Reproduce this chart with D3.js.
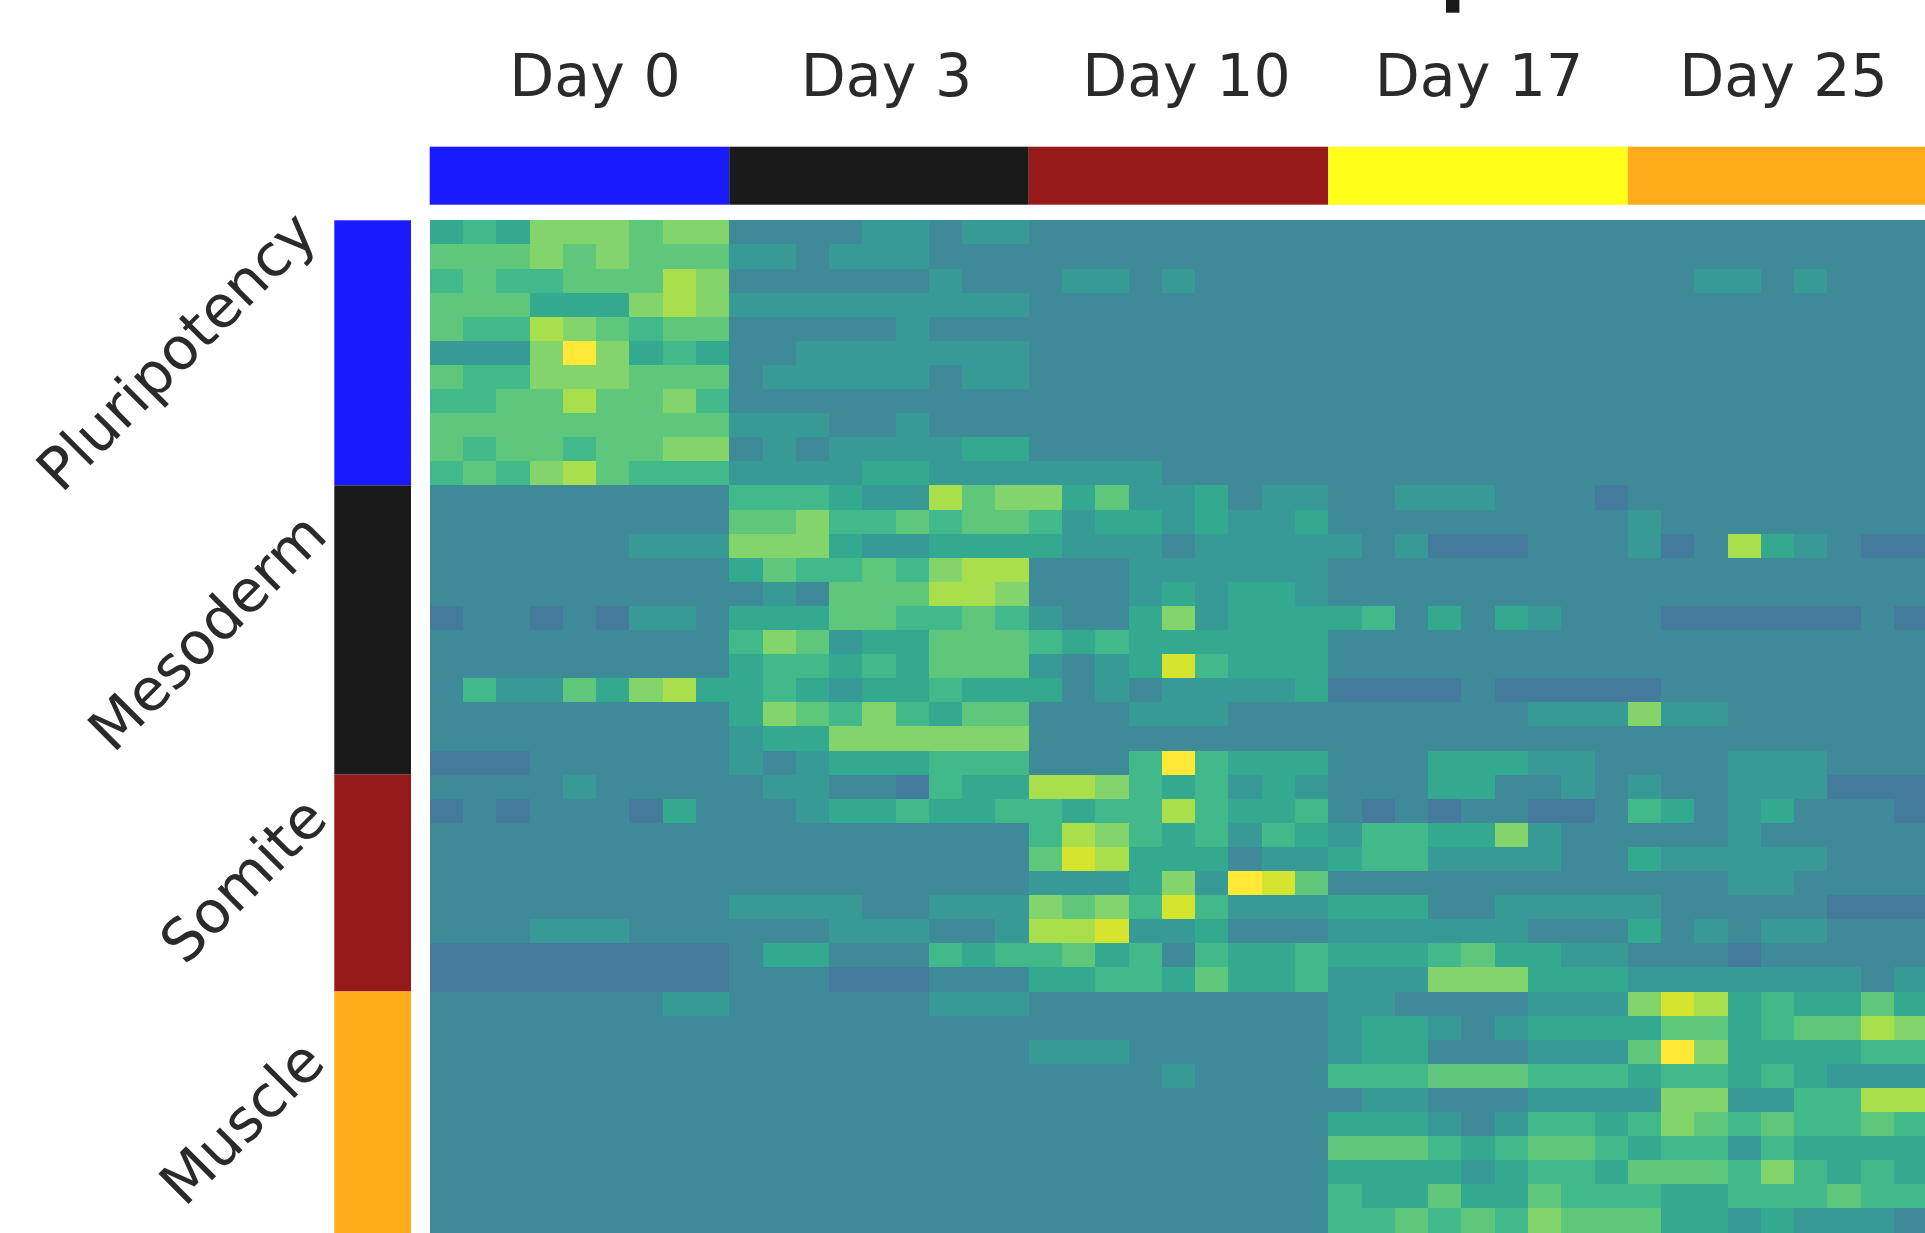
<!DOCTYPE html>
<html>
<head>
<meta charset="utf-8">
<script src="https://cdn.jsdelivr.net/npm/d3@7"></script>
<style>
  html, body { margin: 0; background: #fff; overflow: hidden; }
  text { font-family: "DejaVu Sans", sans-serif; fill: #2a2a2a; }
</style>
</head>
<body>
<div id="chart"></div>
<script>
const days = ['Day 0', 'Day 3', 'Day 10', 'Day 17', 'Day 25'];
const dayColors = ['#1a1aff', '#1a1a1a', '#961a1a', '#ffff1a', '#ffab1a'];
const groups = ['Pluripotency', 'Mesoderm', 'Somite', 'Muscle'];
const groupColors = ['#1a1aff', '#1a1a1a', '#961a1a', '#ffab1a'];

// expression levels, 9 columns per day
const pluripotency = [
  [3,4,3,6,6,6,5,6,6, 1,1,1,1,2,2,1,2,2, 1,1,1,1,1,1,1,1,1, 1,1,1,1,1,1,1,1,1, 1,1,1,1,1,1,1,1,1],
  [5,5,5,6,5,6,5,5,5, 2,2,1,2,2,2,1,1,1, 1,1,1,1,1,1,1,1,1, 1,1,1,1,1,1,1,1,1, 1,1,1,1,1,1,1,1,1],
  [4,5,4,4,5,5,5,7,6, 1,1,1,1,1,1,2,1,1, 1,2,2,1,2,1,1,1,1, 1,1,1,1,1,1,1,1,1, 1,1,2,2,1,2,1,1,1],
  [5,5,5,3,3,3,6,7,6, 2,2,2,2,2,2,2,2,2, 1,1,1,1,1,1,1,1,1, 1,1,1,1,1,1,1,1,1, 1,1,1,1,1,1,1,1,1],
  [5,4,4,7,6,5,4,5,5, 1,1,1,1,1,2,1,1,1, 1,1,1,1,1,1,1,1,1, 1,1,1,1,1,1,1,1,1, 1,1,1,1,1,1,1,1,1],
  [2,2,2,6,9,6,3,4,3, 1,1,2,2,2,2,2,2,2, 1,1,1,1,1,1,1,1,1, 1,1,1,1,1,1,1,1,1, 1,1,1,1,1,1,1,1,1],
  [5,4,4,6,6,6,5,5,5, 1,2,2,2,2,2,1,2,2, 1,1,1,1,1,1,1,1,1, 1,1,1,1,1,1,1,1,1, 1,1,1,1,1,1,1,1,1],
  [4,4,5,5,7,5,5,6,4, 1,1,1,1,1,1,1,1,1, 1,1,1,1,1,1,1,1,1, 1,1,1,1,1,1,1,1,1, 1,1,1,1,1,1,1,1,1],
  [5,5,5,5,5,5,5,5,5, 2,2,2,1,1,2,1,1,1, 1,1,1,1,1,1,1,1,1, 1,1,1,1,1,1,1,1,1, 1,1,1,1,1,1,1,1,1],
  [5,4,5,5,4,5,5,6,6, 1,2,1,2,2,2,2,3,3, 1,1,1,1,1,1,1,1,1, 1,1,1,1,1,1,1,1,1, 1,1,1,1,1,1,1,1,1],
  [4,5,4,6,7,5,4,4,4, 2,2,2,2,3,3,2,2,2, 2,2,2,2,1,1,1,1,1, 1,1,1,1,1,1,1,1,1, 1,1,1,1,1,1,1,1,1]
];
const mesoderm = [
  [1,1,1,1,1,1,1,1,1, 4,4,4,3,2,2,7,5,6, 6,3,5,2,2,3,1,2,2, 1,1,2,2,2,1,1,1,0, 1,1,1,1,1,1,1,1,1],
  [1,1,1,1,1,1,1,1,1, 5,5,6,4,4,5,4,5,5, 4,2,3,3,2,3,2,2,3, 1,1,1,1,1,1,1,1,1, 2,1,1,1,1,1,1,1,1],
  [1,1,1,1,1,1,2,2,2, 6,6,6,3,2,2,3,3,3, 3,2,2,2,1,2,2,2,2, 2,1,2,0,0,0,1,1,1, 2,0,1,7,3,2,1,0,0],
  [1,1,1,1,1,1,1,1,1, 3,5,4,4,5,4,6,7,7, 1,1,1,2,2,2,2,2,2, 1,1,1,1,1,1,1,1,1, 1,1,1,1,1,1,1,1,1],
  [1,1,1,1,1,1,1,1,1, 1,2,1,5,5,5,7,7,6, 1,1,1,2,3,2,3,3,2, 1,1,1,1,1,1,1,1,1, 1,1,1,1,1,1,1,1,1],
  [0,1,1,0,1,0,2,2,1, 3,3,3,5,5,4,4,5,4, 2,1,1,3,6,2,3,3,3, 3,4,1,3,1,3,2,1,1, 1,0,0,0,0,0,0,1,0],
  [1,1,1,1,1,1,1,1,1, 4,6,5,2,3,3,5,5,5, 4,3,4,3,3,3,3,3,3, 1,1,1,1,1,1,1,1,1, 1,1,1,1,1,1,1,1,1],
  [1,1,1,1,1,1,1,1,1, 3,4,4,3,4,3,5,5,5, 2,1,2,3,8,4,3,3,3, 1,1,1,1,1,1,1,1,1, 1,1,1,1,1,1,1,1,1],
  [1,4,2,2,5,3,6,7,3, 3,4,3,2,3,3,4,3,3, 3,1,2,1,2,2,2,2,3, 0,0,0,0,1,0,0,0,0, 0,1,1,1,1,1,1,1,1],
  [1,1,1,1,1,1,1,1,1, 3,6,5,4,6,4,3,5,5, 1,1,1,2,2,2,1,1,1, 1,1,1,1,1,1,2,2,2, 6,2,2,1,1,1,1,1,1],
  [1,1,1,1,1,1,1,1,1, 2,3,3,6,6,6,6,6,6, 1,1,1,1,1,1,1,1,1, 1,1,1,1,1,1,1,1,1, 1,1,1,1,1,1,1,1,1],
  [0,0,0,1,1,1,1,1,1, 2,1,2,3,3,3,4,4,4, 1,1,1,4,9,4,3,3,3, 1,1,1,3,3,3,2,2,1, 1,1,1,2,2,2,1,1,1]
];
const somite = [
  [1,1,1,1,2,1,1,1,1, 1,2,2,1,1,0,4,3,3, 7,7,6,4,3,4,2,3,2, 1,1,1,3,3,1,1,2,1, 2,1,1,2,2,2,0,0,0],
  [0,1,0,1,1,1,0,3,1, 1,1,2,3,3,4,3,3,4, 4,3,4,4,7,4,3,3,4, 1,0,1,0,1,1,0,0,1, 4,3,1,2,3,1,1,1,0],
  [1,1,1,1,1,1,1,1,1, 1,1,1,1,1,1,1,1,1, 4,7,6,4,3,4,2,4,3, 2,4,4,3,3,6,2,1,1, 1,1,1,2,1,1,1,1,1],
  [1,1,1,1,1,1,1,1,1, 1,1,1,1,1,1,1,1,1, 5,8,7,3,3,3,1,2,2, 3,4,4,2,2,2,2,1,1, 3,2,2,2,2,2,1,1,1],
  [1,1,1,1,1,1,1,1,1, 1,1,1,1,1,1,1,1,1, 2,2,2,3,6,2,9,8,5, 1,1,1,1,1,1,1,1,1, 1,1,1,2,2,1,1,1,1],
  [1,1,1,1,1,1,1,1,1, 2,2,2,2,1,1,2,2,2, 6,5,6,4,8,4,2,2,2, 3,3,3,1,1,2,2,2,2, 2,1,1,1,1,1,0,0,0],
  [1,1,1,2,2,2,1,1,1, 1,1,1,2,2,2,1,1,2, 7,7,8,2,2,3,1,1,1, 2,2,2,2,2,2,1,1,1, 3,1,2,1,2,2,1,1,1],
  [0,0,0,0,0,0,0,0,0, 1,3,3,1,1,1,4,3,4, 4,5,3,4,1,4,3,3,4, 3,3,3,4,5,3,3,2,2, 1,1,1,0,1,1,1,1,1],
  [0,0,0,0,0,0,0,0,0, 1,1,1,0,0,0,1,1,1, 3,3,4,4,3,5,3,3,4, 2,2,2,6,6,6,3,3,3, 2,2,2,2,2,2,2,1,2]
];
const muscle = [
  [1,1,1,1,1,1,1,2,2, 1,1,1,1,1,1,2,2,2, 1,1,1,1,1,1,1,1,1, 2,2,1,1,1,1,2,2,2, 6,8,7,3,4,3,3,5,3],
  [1,1,1,1,1,1,1,1,1, 1,1,1,1,1,1,1,1,1, 1,1,1,1,1,1,1,1,1, 2,3,3,2,1,2,3,3,3, 3,5,5,3,4,5,5,7,6],
  [1,1,1,1,1,1,1,1,1, 1,1,1,1,1,1,1,1,1, 2,2,2,1,1,1,1,1,1, 2,3,3,1,1,1,2,2,2, 5,9,6,3,3,3,3,4,4],
  [1,1,1,1,1,1,1,1,1, 1,1,1,1,1,1,1,1,1, 1,1,1,1,2,1,1,1,1, 4,4,4,5,5,5,4,4,4, 3,4,4,3,4,3,2,2,2],
  [1,1,1,1,1,1,1,1,1, 1,1,1,1,1,1,1,1,1, 1,1,1,1,1,1,1,1,1, 1,2,2,1,1,1,2,2,2, 2,6,6,2,2,4,4,7,7],
  [1,1,1,1,1,1,1,1,1, 1,1,1,1,1,1,1,1,1, 1,1,1,1,1,1,1,1,1, 3,3,3,2,1,2,4,4,3, 4,6,5,4,5,4,4,5,4],
  [1,1,1,1,1,1,1,1,1, 1,1,1,1,1,1,1,1,1, 1,1,1,1,1,1,1,1,1, 5,5,5,4,3,4,5,5,4, 3,4,4,2,4,3,3,3,3],
  [1,1,1,1,1,1,1,1,1, 1,1,1,1,1,1,1,1,1, 1,1,1,1,1,1,1,1,1, 3,3,3,3,2,3,4,4,3, 5,5,5,4,6,4,3,4,3],
  [1,1,1,1,1,1,1,1,1, 1,1,1,1,1,1,1,1,1, 1,1,1,1,1,1,1,1,1, 4,3,3,5,3,3,5,4,4, 4,3,3,4,4,4,5,4,4],
  [1,1,1,1,1,1,1,1,1, 1,1,1,1,1,1,1,1,1, 1,1,1,1,1,1,1,1,1, 4,4,5,4,5,4,6,5,5, 5,3,3,2,3,2,2,2,1],
  [1,1,1,1,1,1,1,1,1, 1,1,1,1,1,1,1,1,1, 1,1,1,1,1,1,1,1,1, 3,3,3,3,4,3,3,4,5, 3,7,3,3,5,4,4,3,3]
];

const levelColors = ['#447a9b', '#3f8a99', '#379a97', '#33a98f', '#42b98a', '#5ec77b', '#82d46b', '#a9de4c', '#d4e42f', '#ffe936'];

const Width = 1925;
const Height = 1233;
const ColsPerDay = 9;
const CellWidth = 33.28;
const CellHeight = 24.1;
const Left = 429.7;
const Top = 220.3;
const FontSize = 58.5;

const matrix = [...pluripotency, ...mesoderm, ...somite, ...muscle];
const groupRows = [pluripotency, mesoderm, somite, muscle];

const svg = d3.select('#chart')
  .append('svg')
  .attr('width', Width)
  .attr('height', Height)
  .style('display', 'block');

const x = d3.scaleBand()
  .domain(d3.range(days.length * ColsPerDay))
  .range([Left, Left + days.length * ColsPerDay * CellWidth]);

const y = d3.scaleBand()
  .domain(d3.range(matrix.length))
  .range([Top, Top + matrix.length * CellHeight]);

const dayScale = d3.scaleBand()
  .domain(days)
  .range(x.range());

const color = d3.scaleLinear()
  .domain(d3.range(levelColors.length))
  .range(levelColors);

// heatmap cells
svg.append('g')
  .attr('shape-rendering', 'crispEdges')
  .selectAll('g')
  .data(matrix)
  .join('g')
  .selectAll('rect')
  .data((row, i) => row.map((value, j) => ({ value, i, j })))
  .join('rect')
  .attr('x', d => x(d.j))
  .attr('y', d => y(d.i))
  .attr('width', x.bandwidth() + 0.5)
  .attr('height', y.bandwidth() + 0.5)
  .attr('fill', d => color(d.value));

// day colour strip
svg.append('g')
  .selectAll('rect')
  .data(days)
  .join('rect')
  .attr('x', d => dayScale(d))
  .attr('y', 146.7)
  .attr('width', dayScale.bandwidth())
  .attr('height', 58)
  .attr('fill', (d, i) => dayColors[i]);

// labels were placed by hand in the original, not quite centred
const dayNudge = [15.5, 7.5, 8, 1, 6];
svg.append('g')
  .selectAll('text')
  .data(days)
  .join('text')
  .attr('x', (d, i) => dayScale(d) + dayScale.bandwidth() / 2 + dayNudge[i])
  .attr('y', 95.5)
  .attr('text-anchor', 'middle')
  .attr('font-size', FontSize)
  .text(d => d);

// group colour strip and rotated labels
let rowStart = 0;
const groupSpans = groupRows.map((rows) => {
  const span = { start: rowStart, end: rowStart + rows.length };
  rowStart = span.end;
  return span;
});

svg.append('g')
  .selectAll('rect')
  .data(groups)
  .join('rect')
  .attr('x', 334.3)
  .attr('y', (d, i) => y(groupSpans[i].start))
  .attr('width', 76.7)
  .attr('height', (d, i) => (groupSpans[i].end - groupSpans[i].start) * CellHeight)
  .attr('fill', (d, i) => groupColors[i]);

const labelX = [176, 207, 243, 241.5];
const labelNudge = [-2, 1.5, -3.5, -2];
svg.append('g')
  .selectAll('text')
  .data(groups)
  .join('text')
  .attr('transform', (d, i) => {
    const mid = y(groupSpans[i].start) + (groupSpans[i].end - groupSpans[i].start) * CellHeight / 2;
    return `translate(${labelX[i]}, ${mid + labelNudge[i]}) rotate(-45)`;
  })
  .attr('text-anchor', 'middle')
  .attr('dy', '0.35em')
  .attr('font-size', FontSize)
  .text(d => d);

// bottom of a cropped title letter
svg.append('rect')
  .attr('x', 1446)
  .attr('y', 0)
  .attr('width', 13.4)
  .attr('height', 12.7)
  .attr('fill', '#1a1a1a');
</script>
</body>
</html>
